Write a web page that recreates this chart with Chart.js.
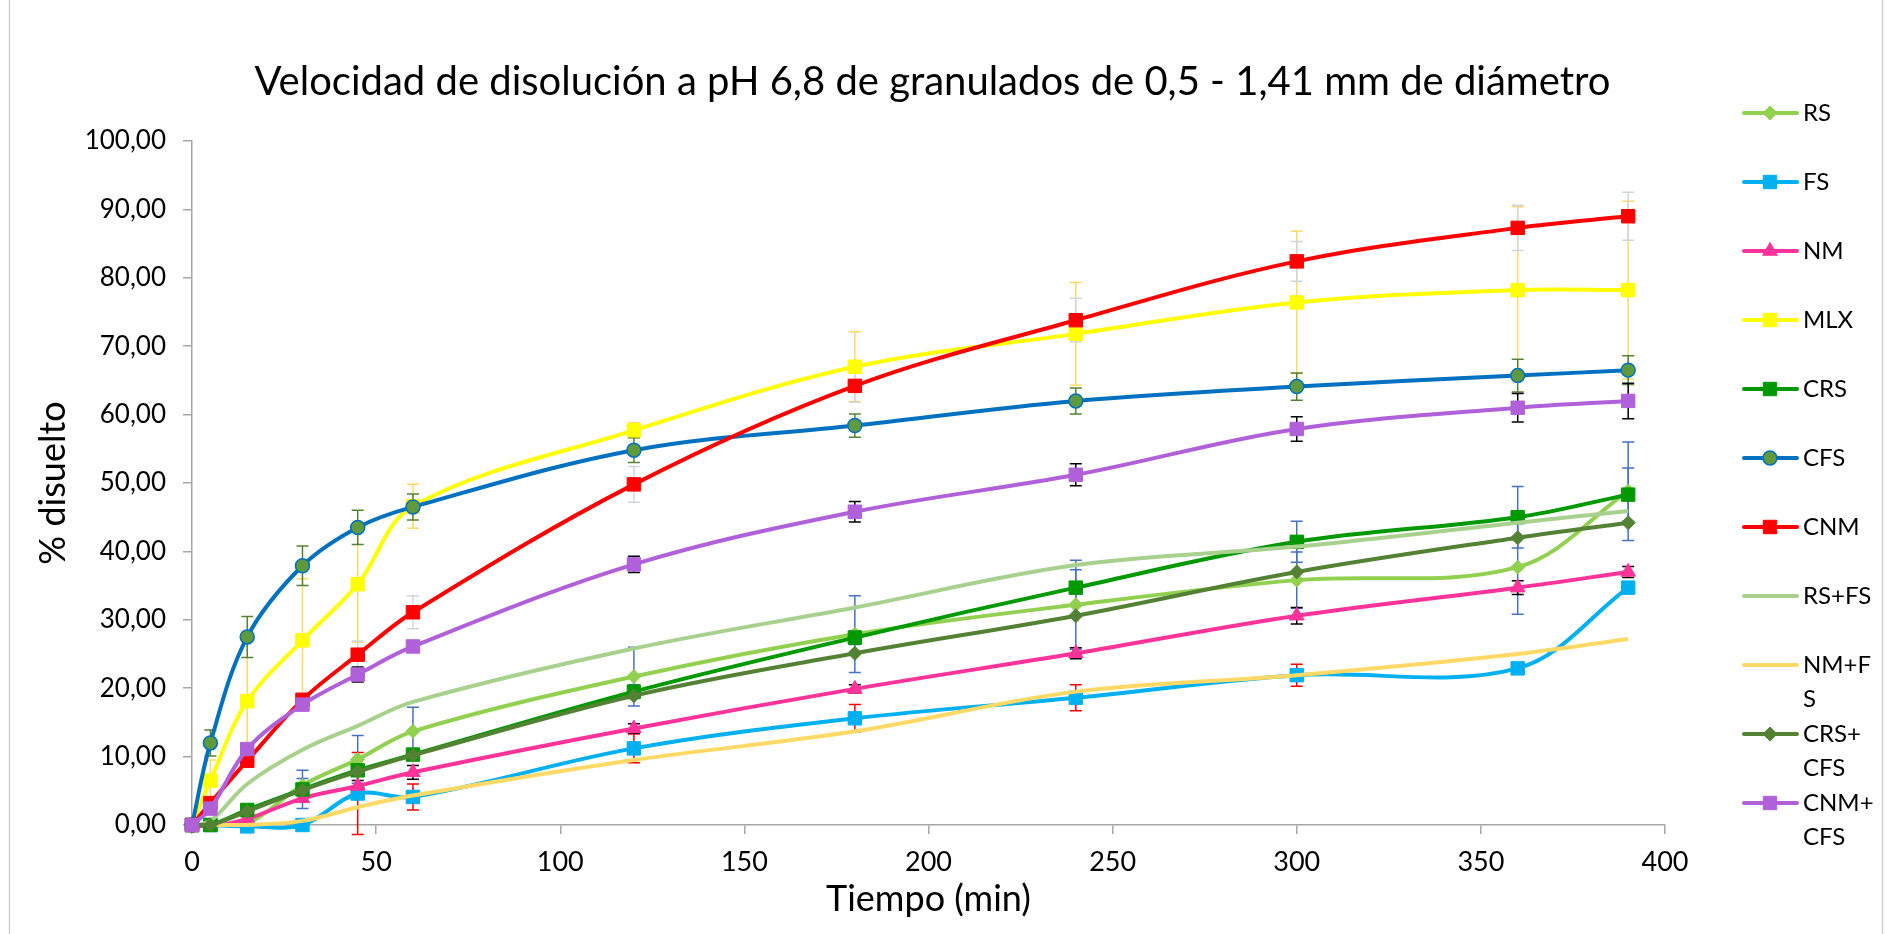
<!DOCTYPE html>
<html lang="es">
<head>
<meta charset="utf-8">
<title>Velocidad de disolución a pH 6,8</title>
<script src="https://cdn.jsdelivr.net/npm/chart.js@4.4.1/dist/chart.umd.min.js"></script>
<style>
  html, body { margin: 0; padding: 0; background: #fff; overflow: hidden; }
  #contenedor { width: 1885px; height: 934px; }
</style>
</head>
<body>
<div id="contenedor"><canvas id="grafica" width="1885" height="934"></canvas></div>
<script>
// tiempos de muestreo (min)
const tiempos = [0, 5, 15, 30, 45, 60, 120, 180, 240, 300, 360, 390];

// % disuelto por formulación
const rs      = [0, 0, 0.2, 5.8, 9.6, 13.7, 21.7, 27.9, 32.2, 35.8, 37.7, 48.8];
const fs      = [0, 0, -0.2, 0, 4.6, 4.1, 11.2, 15.6, 18.6, 21.9, 22.9, 34.7];
const nm      = [0, -0.2, 0.9, 3.9, 5.7, 7.7, 14.1, 19.9, 25.1, 30.6, 34.7, 37.0];
const mlx     = [0, 6.5, 18.1, 27.0, 35.2, 46.6, 57.7, 67.0, 71.8, 76.4, 78.2, 78.2];
const crs     = [0, 0, 2.2, 5.2, 8.0, 10.3, 19.5, 27.4, 34.7, 41.4, 45.0, 48.3];
const cfs     = [0, 12.0, 27.5, 37.9, 43.5, 46.5, 54.8, 58.4, 62.0, 64.1, 65.7, 66.5];
const cnm     = [0, 3.2, 9.4, 18.3, 24.9, 31.1, 49.8, 64.2, 73.8, 82.4, 87.3, 89.0];
const rsFs    = [0, 0.6, 6.0, 11.0, 14.5, 18.0, 25.8, 31.8, 38.0, 40.7, 44.2, 45.9];
const nmFs    = [0, 0, 0, 0.6, 2.6, 4.3, 9.5, 13.7, 19.5, 21.9, 25.0, 27.2];
const crsCfs  = [0, 0, 2.0, 5.1, 7.8, 10.2, 18.9, 25.1, 30.6, 37.0, 42.0, 44.2];
const cnmCfs  = [0, 2.4, 11.1, 17.6, 22.0, 26.1, 38.1, 45.8, 51.2, 57.9, 61.0, 62.0];

// desviación estándar (barras de error)
const rsDe     = [0, 0, 0.3, 1.0, 3.5, 3.5, 4.3, 5.6, 6.5, 4.1, 6.9, 7.2];
const fsDe     = [0, 0, 0.3, 0.3, 6.0, 1.9, 2.1, 2.0, 1.9, 1.6, 0.5, 0.4];
const nmDe     = [0, 0.2, 0.3, 0.5, 0.8, 1.0, 0.7, 0.6, 0.8, 1.2, 1.0, 0.8];
const mlxDe    = [0, 3.0, 9.0, 9.0, 8.5, 3.2, 1.1, 5.1, 7.5, 10.4, 12.2, 13.0];
const crsDe    = [0, 0, 0.3, 2.8, 0.8, 0.8, 1.0, 1.0, 2.6, 3.0, 4.5, 3.9];
const cfsDe    = [0, 1.9, 3.0, 2.9, 2.5, 1.9, 1.8, 1.7, 1.9, 2.0, 2.4, 2.1];
const cnmDe    = [0, 0.5, 1.0, 1.0, 2.0, 2.4, 2.6, 2.4, 3.2, 2.9, 3.3, 3.5];
const cnmCfsDe = [0, 0.5, 0.5, 0.5, 1.1, 0.5, 1.2, 1.5, 1.6, 1.8, 2.1, 2.6];

const ticksX = [0, 50, 100, 150, 200, 250, 300, 350, 400];
const ticksY = [0, 10, 20, 30, 40, 50, 60, 70, 80, 90, 100];

const series = [
  { nombre: 'RS',      lineas: ['RS'],          datos: rs,     error: rsDe,     color: '#92D050', punto: 'rectRot',  radio: 7,   relleno: '#92D050', colorError: '#4472C4' },
  { nombre: 'FS',      lineas: ['FS'],          datos: fs,     error: fsDe,     color: '#00B0F0', punto: 'rect',     radio: 9.5, relleno: '#00B0F0', colorError: '#FF0000' },
  { nombre: 'NM',      lineas: ['NM'],          datos: nm,     error: nmDe,     color: '#FF3399', punto: 'triangle', radio: 8.5, relleno: '#FF3399', colorError: '#000000' },
  { nombre: 'MLX',     lineas: ['MLX'],         datos: mlx,    error: mlxDe,    color: '#FFFF00', punto: 'rect',     radio: 9.5, relleno: '#FFFF00', colorError: '#FFD966' },
  { nombre: 'CRS',     lineas: ['CRS'],         datos: crs,    error: crsDe,    color: '#009900', punto: 'rect',     radio: 9.5, relleno: '#009900', colorError: '#4472C4' },
  { nombre: 'CFS',     lineas: ['CFS'],         datos: cfs,    error: cfsDe,    color: '#0070C0', punto: 'circle',   radio: 7,   relleno: '#5F9B3E', colorError: '#548235' },
  { nombre: 'CNM',     lineas: ['CNM'],         datos: cnm,    error: cnmDe,    color: '#FF0000', punto: 'rect',     radio: 9.5, relleno: '#FF0000', colorError: '#D0D6E0' },
  { nombre: 'RS+FS',   lineas: ['RS+FS'],       datos: rsFs,   error: null,     color: '#A9D18E', punto: false,      radio: 0,   relleno: '#A9D18E', colorError: null },
  { nombre: 'NM+FS',   lineas: ['NM+F', 'S'],   datos: nmFs,   error: null,     color: '#FFD966', punto: false,      radio: 0,   relleno: '#FFD966', colorError: null },
  { nombre: 'CRS+CFS', lineas: ['CRS+', 'CFS'], datos: crsCfs, error: null,     color: '#548235', punto: 'rectRot',  radio: 7,   relleno: '#548235', colorError: null },
  { nombre: 'CNM+CFS', lineas: ['CNM+', 'CFS'], datos: cnmCfs, error: cnmCfsDe, color: '#B061D9', punto: 'rect',     radio: 9.5, relleno: '#B061D9', colorError: '#000000' }
];

const GRIS_EJE = '#A6A6A6';
const FUENTE = 'Lato';

const datasets = series.map((s, i) => ({
  label: s.nombre,
  data: tiempos.map((t, j) => ({ x: t, y: s.datos[j] })),
  borderColor: s.color,
  backgroundColor: s.relleno,
  borderWidth: 4,
  tension: 0.35,
  pointStyle: s.punto,
  pointRadius: s.radio,
  pointBackgroundColor: s.relleno,
  pointBorderColor: s.nombre === 'CFS' ? '#0070C0' : s.relleno,
  pointBorderWidth: s.nombre === 'CFS' ? 1.5 : 1,
  clip: false,
  order: series.length - i,
  errores: s.error,
  colorError: s.colorError,
  lineasLeyenda: s.lineas
}));

// fondo y marco del gráfico
const fondo = {
  id: 'fondo',
  beforeDraw(chart) {
    const { ctx, width, height } = chart;
    ctx.save();
    ctx.fillStyle = '#ffffff';
    ctx.fillRect(0, 0, width, height);
    ctx.strokeStyle = '#D0D0D0';
    ctx.lineWidth = 1.5;
    ctx.strokeRect(9.5, -3, 1873, height + 6);
    ctx.restore();
  }
};

// barras de error verticales
const barrasError = {
  id: 'barrasError',
  beforeDatasetsDraw(chart) {
    const { ctx, scales: { x, y } } = chart;
    ctx.save();
    ctx.lineWidth = 1.5;
    chart.data.datasets.forEach(ds => {
      if (!ds.errores) return;
      ctx.strokeStyle = ds.colorError;
      ds.errores.forEach((e, j) => {
        if (!e) return;
        const v = ds.data[j].y;
        const px = x.getPixelForValue(ds.data[j].x);
        const arriba = y.getPixelForValue(v + e);
        const abajo = y.getPixelForValue(v - e);
        ctx.beginPath();
        ctx.moveTo(px, arriba); ctx.lineTo(px, abajo);
        ctx.moveTo(px - 6, arriba); ctx.lineTo(px + 6, arriba);
        ctx.moveTo(px - 6, abajo); ctx.lineTo(px + 6, abajo);
        ctx.stroke();
      });
    });
    ctx.restore();
  }
};

// leyenda lateral con nombres partidos en dos líneas
const leyenda = {
  id: 'leyendaLateral',
  afterDraw(chart) {
    const ctx = chart.ctx;
    const x0 = 1744, x1 = 1797, xm = 1770, xt = 1803;
    ctx.save();
    chart.data.datasets.forEach((ds, i) => {
      const yc = 113 + i * 69;
      ctx.strokeStyle = ds.borderColor;
      ctx.lineWidth = 4;
      ctx.lineCap = 'round';
      ctx.beginPath();
      ctx.moveTo(x0, yc);
      ctx.lineTo(x1, yc);
      ctx.stroke();
      if (ds.pointRadius > 0) {
        ctx.lineCap = 'butt';
        ctx.fillStyle = ds.pointBackgroundColor;
        ctx.strokeStyle = ds.pointBorderColor;
        ctx.lineWidth = ds.pointBorderWidth;
        Chart.helpers.drawPoint(ctx, {
          pointStyle: ds.pointStyle,
          radius: ds.pointRadius,
          rotation: 0,
          borderWidth: ds.pointBorderWidth
        }, xm, yc);
      }
      ctx.fillStyle = '#000';
      ctx.font = '24px ' + FUENTE;
      ctx.textBaseline = 'middle';
      ctx.textAlign = 'left';
      ds.lineasLeyenda.forEach((t, k) => ctx.fillText(t, xt, yc + k * 34));
    });
    ctx.restore();
  }
};

new Chart(document.getElementById('grafica'), {
  type: 'line',
  data: { datasets },
  plugins: [fondo, barrasError, leyenda],
  options: {
    responsive: false,
    animation: false,
    events: [],
    devicePixelRatio: 1,
    layout: { padding: { left: 0, right: 20, top: 0, bottom: 0 } },
    plugins: {
      legend: { display: false },
      tooltip: { enabled: false },
      title: {
        display: true,
        text: 'Velocidad de disolución a pH 6,8 de granulados de 0,5 - 1,41 mm de diámetro',
        color: '#000',
        font: { family: FUENTE, size: 40, weight: 'normal' },
        padding: { top: 58, bottom: 35 }
      }
    },
    scales: {
      x: {
        type: 'linear',
        min: 0,
        max: 400,
        afterBuildTicks: s => { s.ticks = ticksX.map(v => ({ value: v })); },
        afterFit: s => { s.height = 109; },
        border: { display: true, color: GRIS_EJE, width: 1.5 },
        grid: { drawOnChartArea: false, drawTicks: true, tickLength: 9, color: GRIS_EJE, lineWidth: 1.5 },
        ticks: { color: '#000', font: { family: FUENTE, size: 27 }, padding: 12, maxRotation: 0 },
        title: {
          display: true,
          text: 'Tiempo (min)',
          color: '#000',
          font: { family: FUENTE, size: 36 },
          padding: { top: 0, bottom: 13 }
        }
      },
      y: {
        min: 0,
        max: 100,
        afterBuildTicks: s => { s.ticks = ticksY.map(v => ({ value: v })); },
        afterFit: s => { s.width = 192; },
        border: { display: true, color: GRIS_EJE, width: 1.5 },
        grid: { drawOnChartArea: false, drawTicks: true, tickLength: 9, color: GRIS_EJE, lineWidth: 1.5 },
        ticks: {
          color: '#000',
          font: { family: FUENTE, size: 26 },
          padding: 17,
          callback: v => v.toFixed(2).replace('.', ',')
        },
        title: {
          display: true,
          text: '% disuelto',
          color: '#000',
          font: { family: FUENTE, size: 36 },
          padding: { top: 32, bottom: 0 }
        }
      },
      yDer: {
        position: 'right',
        display: true,
        grid: { display: false },
        border: { display: false },
        ticks: { display: false },
        afterFit: s => { s.width = 200; }
      }
    }
  }
});
</script>
</body>
</html>
